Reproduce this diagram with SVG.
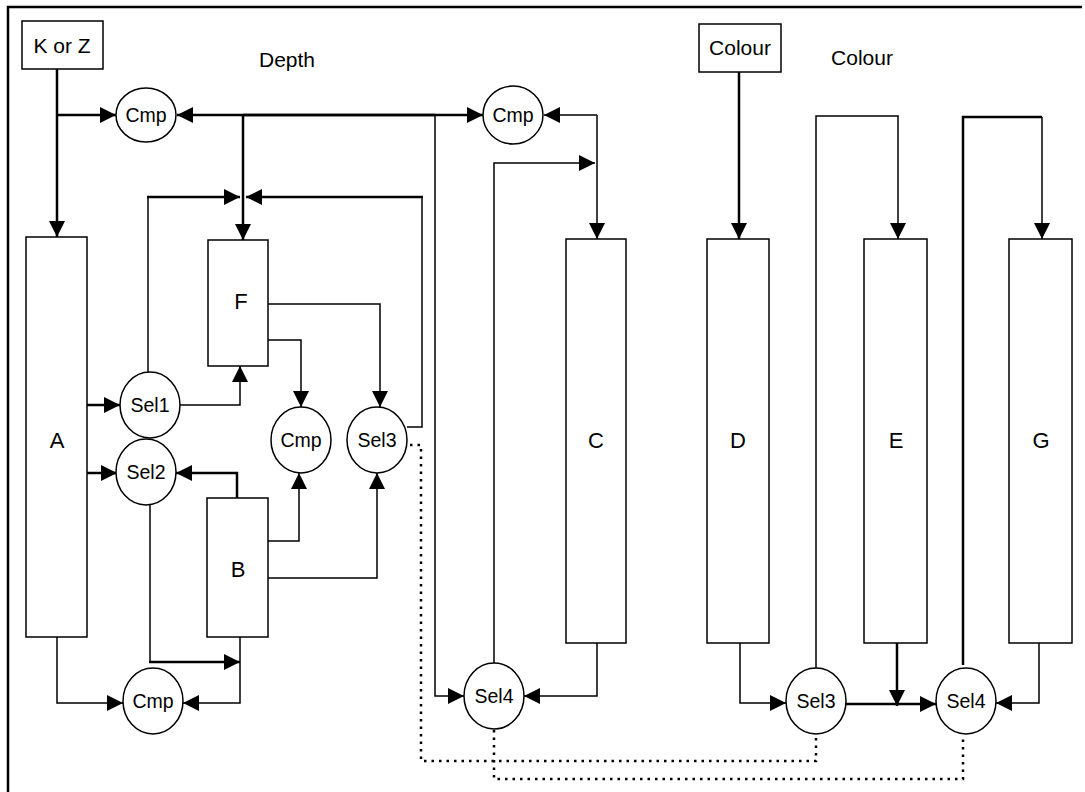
<svg xmlns="http://www.w3.org/2000/svg" width="1085" height="792" viewBox="0 0 1085 792">
<style>
.bg{fill:#fff}
.box{fill:#fff;stroke:#000;stroke-width:1.5}
.ell{fill:#fff;stroke:#000;stroke-width:1.5}
.t{font-family:"Liberation Sans",Arial,sans-serif;font-size:19.5px;fill:#000;text-anchor:middle}
.big{font-size:21px}
.huge{font-size:22px}
.w{fill:none;stroke:#000;stroke-width:1.5}
.k{fill:none;stroke:#000;stroke-width:2.5}
.a{marker-end:url(#ah)}
.d{fill:none;stroke:#000;stroke-width:2.5;stroke-dasharray:2.5,5}
</style>
<defs>
<marker id="ah" markerUnits="userSpaceOnUse" markerWidth="16" markerHeight="16" refX="16" refY="8" orient="auto" viewBox="0 0 16 16">
<path d="M0,0 L16,8 L0,16 z" fill="#000"/>
</marker>
</defs>
<rect class="bg" x="0" y="0" width="1085" height="792"/>
<g id="frame">
<path d="M8,792 V7 H1082" fill="none" stroke="#000" stroke-width="2.5"/>
</g>
<g id="connectors">
<path class="k a" d="M57,69 V237"/>
<path class="k a" d="M57,115 H116"/>
<path class="k a" d="M435,115 H177"/>
<path class="k a" d="M243,115 H483"/>
<path class="k a" d="M243,115 V240"/>
<path class="w" d="M148,372 V197"/>
<path class="k a" d="M147,197 H240"/>
<path class="w" d="M407,427 H422 V197"/>
<path class="k a" d="M423,197 H246"/>
<path class="w a" d="M435,115 V696 H464"/>
<path class="w a" d="M597,115 H544"/>
<path class="w a" d="M597,115 V239"/>
<path class="w a" d="M494,663 V163 H595"/>
<path class="k a" d="M87,405 H120"/>
<path class="w a" d="M180,405 H240 V366"/>
<path class="k a" d="M87,473 H117"/>
<path class="k a" d="M237,498 V473 H176"/>
<path class="w" d="M150,505 V662"/>
<path class="k a" d="M149,662 H240"/>
<path class="w a" d="M240,637 V703 H183"/>
<path class="w a" d="M57,637 V703 H123"/>
<path class="w a" d="M268,340 H301 V407"/>
<path class="w a" d="M268,541 H299 V473"/>
<path class="w a" d="M268,304 H380 V407"/>
<path class="w a" d="M268,578 H377 V473"/>
<path class="w a" d="M597,643 V696 H524"/>
<path class="k a" d="M739,72 V239"/>
<path class="w a" d="M816,668 V116 H898 V239"/>
<path class="k" d="M963,665 V117 H1042"/>
<path class="w a" d="M1042,117 V239"/>
<path class="w a" d="M740,643 V703 H786"/>
<path class="k a" d="M846,704 H936"/>
<path class="k a" d="M897,643 V706"/>
<path class="w a" d="M1039,643 V703 H996"/>
<path class="d" d="M410,445 H421 V761 H816 V735"/>
<path class="d" d="M494,730 V779 H963 V735"/>
</g>
<g id="KorZ"><rect class="box" x="22" y="21" width="81" height="48"/><text class="t big" x="62" y="53">K or Z</text></g>
<g id="DepthLabel"><text class="t big" x="287" y="67">Depth</text></g>
<g id="ColourIn"><rect class="box" x="699" y="24" width="82" height="48"/><text class="t big" x="740" y="55">Colour</text></g>
<g id="ColourLabel"><text class="t big" x="862" y="65">Colour</text></g>
<g id="A"><rect class="box" x="26" y="237" width="61" height="400"/><text class="t huge" x="57" y="448">A</text></g>
<g id="F"><rect class="box" x="208" y="240" width="60" height="126"/><text class="t huge" x="241" y="309">F</text></g>
<g id="B"><rect class="box" x="207" y="498" width="61" height="139"/><text class="t huge" x="238" y="577">B</text></g>
<g id="C"><rect class="box" x="566" y="239" width="60" height="404"/><text class="t huge" x="596" y="448">C</text></g>
<g id="D"><rect class="box" x="707" y="239" width="62" height="404"/><text class="t huge" x="738" y="448">D</text></g>
<g id="E"><rect class="box" x="864" y="239" width="63" height="404"/><text class="t huge" x="896" y="448">E</text></g>
<g id="G"><rect class="box" x="1009" y="239" width="63" height="404"/><text class="t huge" x="1041" y="448">G</text></g>
<g id="Cmp1"><ellipse class="ell" cx="146" cy="115" rx="30" ry="27"/><text class="t" x="146" y="122">Cmp</text></g>
<g id="Cmp2"><ellipse class="ell" cx="513" cy="115" rx="30" ry="29"/><text class="t" x="513" y="122">Cmp</text></g>
<g id="Sel1"><ellipse class="ell" cx="150" cy="405" rx="30" ry="33"/><text class="t" x="150" y="412">Sel1</text></g>
<g id="Sel2"><ellipse class="ell" cx="146" cy="472" rx="30" ry="33"/><text class="t" x="146" y="479">Sel2</text></g>
<g id="Cmp3"><ellipse class="ell" cx="301" cy="440" rx="30" ry="33"/><text class="t" x="301" y="447">Cmp</text></g>
<g id="Sel3a"><ellipse class="ell" cx="377" cy="440" rx="30" ry="33"/><text class="t" x="377" y="447">Sel3</text></g>
<g id="Cmp4"><ellipse class="ell" cx="153" cy="701" rx="30" ry="33"/><text class="t" x="153" y="708">Cmp</text></g>
<g id="Sel4a"><ellipse class="ell" cx="494" cy="696" rx="30" ry="33"/><text class="t" x="494" y="703">Sel4</text></g>
<g id="Sel3b"><ellipse class="ell" cx="816" cy="701" rx="30" ry="33"/><text class="t" x="816" y="708">Sel3</text></g>
<g id="Sel4b"><ellipse class="ell" cx="966" cy="701" rx="30" ry="33"/><text class="t" x="966" y="708">Sel4</text></g>
</svg>
